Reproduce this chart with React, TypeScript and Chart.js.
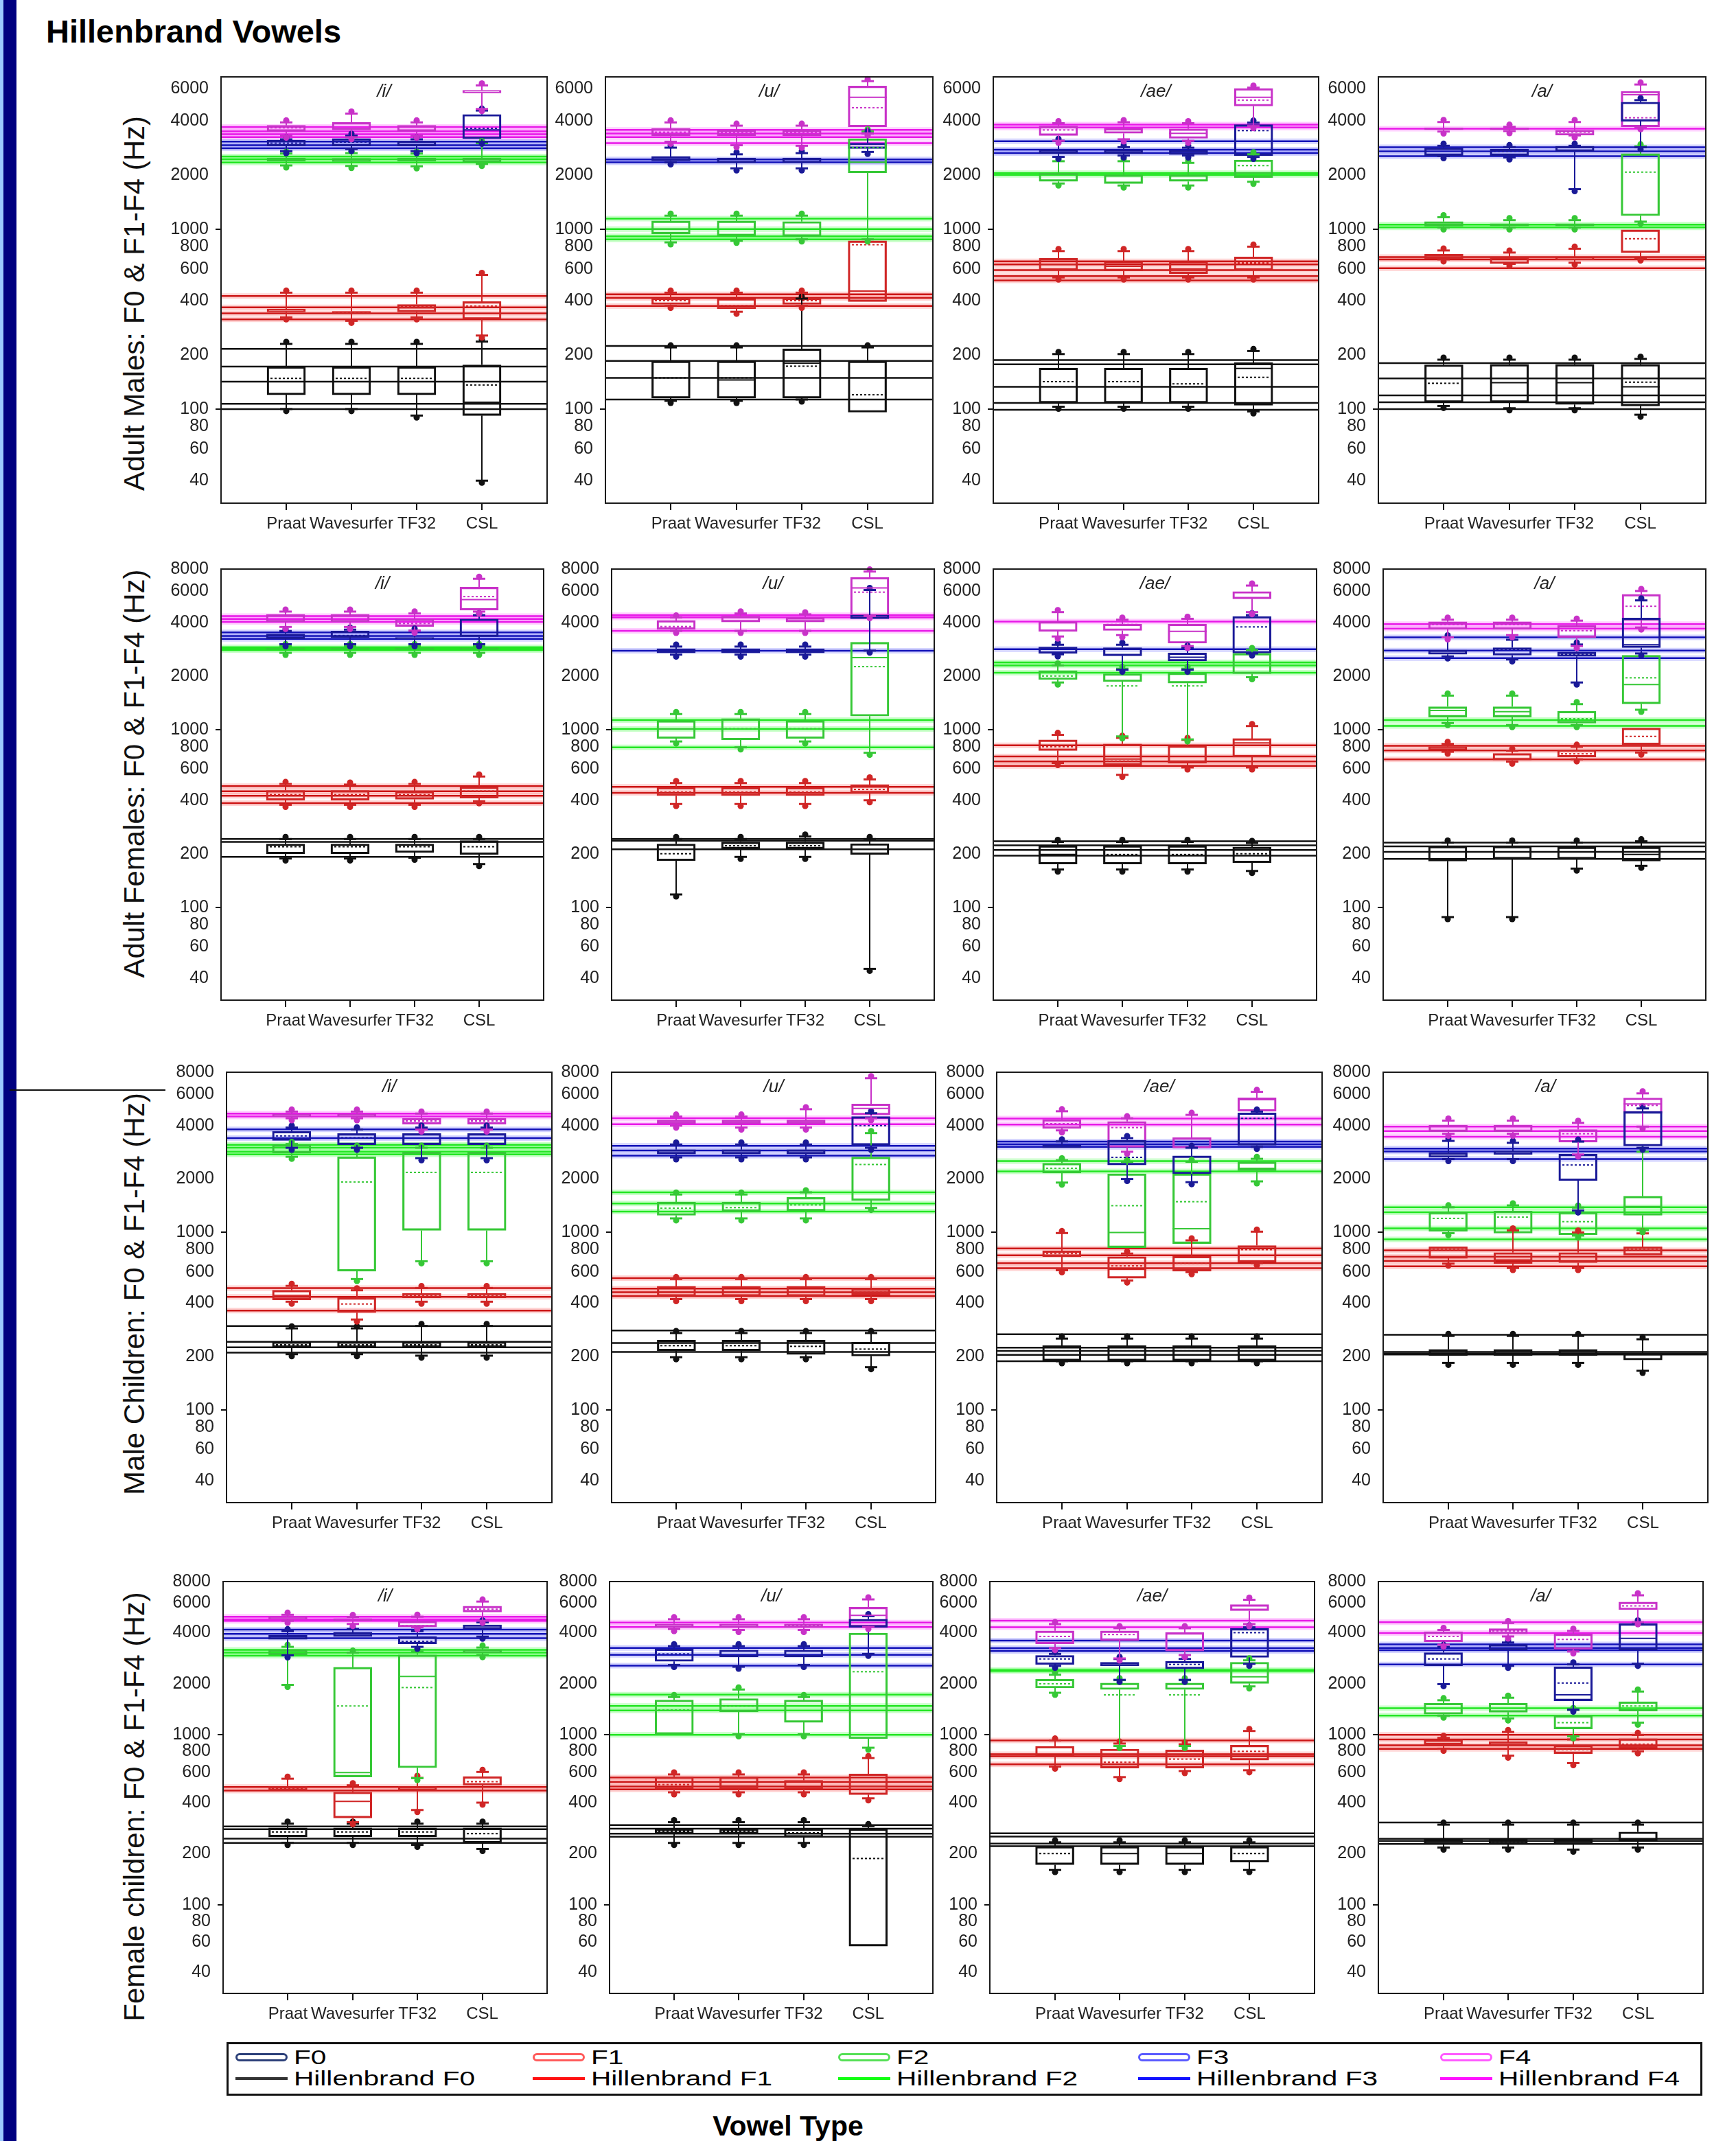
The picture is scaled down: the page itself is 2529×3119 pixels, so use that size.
import React, { useEffect, useRef } from 'react';
import { Chart, registerables } from 'chart.js';

Chart.register(...registerables);

// ---------------- DATA ----------------
const CATEGORIES = ['Praat', 'Wavesurfer', 'TF32', 'CSL'];
const FORMANTS = ['F0', 'F1', 'F2', 'F3', 'F4'];
const VOWELS = ['/i/', '/u/', '/ae/', '/a/'];
const ROW_LABELS = [
  'Adult Males: F0 & F1-F4 (Hz)',
  'Adult Females: F0 & F1-F4 (Hz)',
  'Male Children: F0 & F1-F4 (Hz)',
  'Female children: F0 & F1-F4 (Hz)',
];
const Y_TICKS_ROW1 = [40, 60, 80, 100, 200, 400, 600, 800, 1000, 2000, 4000, 6000];
const Y_TICKS = [40, 60, 80, 100, 200, 400, 600, 800, 1000, 2000, 4000, 6000, 8000];
const Y_MIN = 30;
const Y_MAX_ROW1 = 7000;
const Y_MAX = 8000;

// Each box: [low whisker, Q1, median, Q3, high whisker, mean]; per formant F0..F4, per tool Praat, Wavesurfer, TF32, CSL
type Box = (number | null)[];

// ---- Adult males ----
const AM_i_BOXES: Box[][] = [
  [[100, 120, null, 172, 230, 148], [100, 120, null, 172, 230, 148], [92, 120, null, 172, 230, 148], [40, 92, 109, 176, 237, 136]],
  [[323, 346, null, 360, 443, null], [309, 337, null, 349, 443, 343], [323, 346, 365, 381, 443, 370], [256, 315, null, 395, 556, 373]],
  [[2255, 2380, null, 2480, 2625, null], [2240, 2370, null, 2470, 2640, null], [2230, 2380, null, 2480, 2625, null], [2300, 2350, null, 2480, 3000, null]],
  [[2707, 2895, null, 3114, 3150, 3000], [2780, 2895, null, 3180, 3300, 3040], [2707, 2895, null, 3080, 3150, null], [3050, 3176, 3554, 4328, 4550, 3625]],
  [[3300, 3489, null, 3763, 3910, 3650], [3237, 3554, null, 3910, 4378, null], [3300, 3489, null, 3763, 3910, null], [4640, 5700, null, 5900, 6278, null]],
];
const AM_i_REF = [[216, 172, 142, 107, 100], [424, 367, 340, 315], [2530, 2440, 2340], [3057, 2921, 2810], [3690, 3489, 3363, 3237]];

const AM_u_BOXES: Box[][] = [
  [[111, 115, null, 185, 220, 149], [111, 115, 145, 185, 220, 149], [113, 115, 180, 216, 411, 173], [96, 96, null, 185, 220, 120]],
  [[374, 381, null, 414, 443, 400], [347, 360, null, 411, 443, 375], [374, 381, null, 414, 443, 400], [395, 395, 452, 860, 860, 818]],
  [[843, 938, 1000, 1108, 1186, null], [860, 917, null, 1108, 1186, null], [876, 910, null, 1100, 1186, null], [876, 2052, 2350, 3176, 3490, 2832]],
  [[2344, 2390, null, 2530, 2832, null], [2173, 2330, null, 2480, 2600, null], [2173, 2330, null, 2480, 2640, null], [2680, 2800, null, 3000, 3400, null]],
  [[3055, 3300, null, 3620, 3910, 3450], [2920, 3300, null, 3556, 3750, 3450], [2900, 3300, null, 3556, 3750, 3450], [3400, 3690, 5390, 6225, 6630, 4720]],
];
const AM_u_REF = [[224, 185, 149, 113], [434, 414, 374], [1142, 1000, 910, 876], [2435, 2344], [3556, 3395, 3237, 3000]];

const AM_ae_BOXES: Box[][] = [
  [[103, 108, null, 169, 202, 142], [103, 108, null, 169, 202, 142], [103, 108, null, 169, 202, 138], [97, 105, 168, 181, 210, 150]],
  [[538, 591, 636, 687, 754, null], [538, 585, 620, 661, 754, null], [538, 565, 600, 661, 754, null], [538, 591, null, 700, 798, 648]],
  [[1790, 1840, null, 2045, 2380, null], [1745, 1790, null, 2000, 2380, null], [1745, 1840, null, 2000, 2330, null], [1830, 1930, 2050, 2420, 2600, 2250]],
  [[2515, 2620, null, 2760, 3090, null], [2560, 2620, null, 2760, 2850, null], [2560, 2590, null, 2740, 2830, null], [2515, 2560, null, 3800, 3900, 3520]],
  [[3090, 3310, null, 3730, 3870, 3550], [3150, 3400, null, 3620, 3920, null], [3090, 3190, 3400, 3600, 3870, null], [3730, 4820, 5390, 6040, 6100, 5200]],
];
const AM_ae_REF = [[187, 177, 133, 108, 99], [661, 636, 591, 548, 518], [2045, 2000], [3070, 2760, 2640], [3800, 3660]];

const AM_a_BOXES: Box[][] = [
  [[104, 109, null, 176, 188, 139], [101, 109, 140, 177, 188, null], [101, 106, 140, 177, 188, null], [93, 104, 133, 177, 190, 141]],
  [[678, 686, null, 726, 760, null], [640, 643, null, 698, 740, null], [650, 673, null, 698, 777, null], [686, 739, null, 989, 989, 883]],
  [[1020, 1038, null, 1099, 1163, null], [1020, 1040, null, 1070, 1120, null], [1020, 1040, null, 1070, 1120, null], [1099, 1185, null, 2620, 2880, 2070]],
  [[2540, 2560, null, 2820, 2900, null], [2500, 2560, null, 2780, 2850, 2700], [1665, 2700, null, 2880, 2900, null], [2845, 3970, null, 5070, 5200, null]],
  [[3480, 3560, null, 3650, 3930, null], [3500, 3560, null, 3650, 3700, null], [3310, 3320, null, 3540, 3930, 3450], [3680, 3690, 5570, 5820, 6350, 4150]],
];
const AM_a_REF = [[180, 148, 119, 109, 100], [698, 678, 606], [1058, 1020], [2845, 2700, 2540], [3610]];

// ---- Adult females ----
const AF_i_BOXES: Box[][] = [
  [[188, 200, null, 227, 242, 219], [188, 200, null, 227, 242, 219], [190, 203, null, 227, 242, 219], [175, 198, null, 237, 242, 219]],
  [[377, 400, null, 454, 494, 430], [377, 400, null, 454, 490, 430], [377, 405, null, 450, 494, 430], [395, 411, null, 476, 544, 450]],
  [[2700, 2820, null, 2880, 2950, null], [2700, 2820, null, 2880, 2950, null], [2700, 2820, null, 2880, 2950, null], [2700, 2820, null, 2880, 2950, null]],
  [[3020, 3236, null, 3450, 3586, null], [3020, 3300, null, 3586, 3650, 3380], [3020, 3236, null, 3300, 3600, null], [3020, 3330, null, 4190, 4400, null]],
  [[3780, 4030, null, 4430, 4610, null], [3780, 4030, null, 4430, 4610, null], [3600, 3800, null, 4190, 4500, 3950], [4610, 4700, 5380, 6325, 7050, 5600]],
];
const AF_i_REF = [[242, 233, 192], [480, 449, 424, 385], [2900, 2850, 2800], [3520, 3363, 3236], [4353, 4190, 4030]];

const AF_u_BOXES: Box[][] = [
  [[118, 183, null, 227, 242, 200], [192, 213, null, 233, 242, 222], [192, 213, null, 233, 250, 222], [45, 198, null, 228, 242, 200]],
  [[381, 424, null, 472, 500, 445], [381, 424, null, 472, 500, 445], [381, 424, null, 472, 500, 445], [400, 440, null, 490, 524, 460]],
  [[857, 891, 1008, 1123, 1222, null], [794, 874, null, 1153, 1222, 1010], [857, 891, null, 1123, 1222, 1010], [740, 1190, 2540, 3100, 3100, 2260]],
  [[2640, 2700, null, 2850, 2930, null], [2640, 2700, null, 2850, 2930, null], [2640, 2700, null, 2850, 2930, null], [2780, 4200, null, 4400, 6100, null]],
  [[3590, 3660, null, 4110, 4270, 3800], [3590, 4030, null, 4350, 4500, null], [3590, 4030, null, 4270, 4450, null], [4350, 4360, 6270, 7180, 7750, 5930]],
];
const AF_u_REF = [[242, 237, 212], [476, 440], [1131, 1008, 794], [2775], [4400, 4270, 3590]];

const AF_ae_BOXES: Box[][] = [
  [[163, 175, 198, 222, 233, null], [163, 175, null, 222, 233, 198], [163, 175, null, 222, 233, 198], [160, 178, null, 218, 230, 200]],
  [[648, 762, null, 874, 933, 800], [556, 630, 682, 830, 898, 665], [612, 648, 665, 810, 874, null], [612, 700, 841, 890, 1046, null]],
  [[1840, 1910, null, 2145, 2295, 2000], [915, 1860, null, 2060, 2200, 1760], [880, 1825, null, 2087, 2200, 1760], [1970, 2060, null, 2680, 2800, null]],
  [[2650, 2680, null, 2910, 3000, null], [2170, 2600, null, 2890, 3000, null], [2170, 2430, 2550, 2700, 2890, null], [2680, 2690, null, 4320, 4400, 3780]],
  [[3340, 3570, null, 4050, 4580, null], [3400, 3610, null, 3920, 4150, 3900], [2950, 3060, 3570, 3920, 4200, null], [4580, 5440, null, 5980, 6460, null]],
];
const AF_ae_REF = [[235, 223, 210, 195], [816, 706, 661, 624], [2386, 2295, 2087], [2835], [4050]];

const AF_a_BOXES: Box[][] = [
  [[88, 182, null, 220, 231, null], [88, 187, null, 220, 231, null], [165, 187, 205, 218, 231, null], [171, 182, 198, 218, 235, null]],
  [[750, 770, null, 800, 830, null], [660, 674, null, 733, 760, null], [680, 700, null, 770, 800, 730], [742, 822, null, 1020, 1020, 915]],
  [[1088, 1175, 1280, 1343, 1552, null], [1060, 1175, 1260, 1343, 1552, null], [1060, 1088, null, 1268, 1390, 1150], [1292, 1395, 1790, 2620, 2620, 1955]],
  [[2580, 2650, null, 2800, 3303, null], [2480, 2620, null, 2890, 3200, 2820], [1840, 2580, null, 2730, 3010, 2650], [2680, 2890, 3000, 4240, 5330, null]],
  [[3300, 3660, null, 4040, 4150, 3900], [3400, 3660, null, 4040, 4150, 3900], [2950, 3300, null, 3850, 4100, 3600], [3750, 4110, null, 5760, 6020, 4940]],
];
const AF_a_REF = [[231, 220, 205, 187], [810, 762, 679], [1130, 1047], [3303, 2780, 2525], [3920, 3700]];

// ---- Male children ----
const MC_i_BOXES: Box[][] = [
  [[206, 225, null, 242, 288, 233], [206, 225, null, 242, 288, 233], [202, 225, null, 242, 297, 233], [202, 225, null, 242, 297, 233]],
  [[407, 417, 440, 472, 500, null], [323, 353, null, 429, 472, 395], [407, 428, null, 454, 486, 440], [407, 428, null, 454, 486, 440]],
  [[2670, 2800, null, 3120, 3150, null], [546, 605, null, 2670, 3000, 1925], [688, 1027, null, 2835, 3000, 2180], [688, 1027, null, 2835, 3000, 2180]],
  [[3000, 3300, null, 3710, 3900, 3500], [3000, 3120, null, 3610, 3810, 3420], [2620, 3120, null, 3610, 3900, null], [2620, 3120, null, 3610, 3900, null]],
  [[4400, 4500, null, 4650, 4800, null], [4400, 4500, null, 4650, 4800, null], [3800, 4080, null, 4400, 4680, 4250], [3800, 4080, null, 4400, 4680, 4250]],
];
const MC_i_REF = [[297, 242, 225, 210], [486, 433, 363], [3120, 3000, 2855, 2750], [3810, 3400], [4680, 4500]];

const MC_u_BOXES: Box[][] = [
  [[198, 215, null, 247, 271, 230], [198, 215, null, 247, 271, 230], [198, 205, null, 247, 271, 228], [174, 201, null, 241, 271, 220]],
  [[421, 437, 460, 497, 546, null], [421, 437, 460, 497, 546, null], [421, 437, 460, 497, 546, null], [421, 443, null, 482, 546, 460]],
  [[1200, 1248, null, 1485, 1636, 1370], [1200, 1312, null, 1485, 1636, 1380], [1200, 1323, null, 1575, 1683, 1430], [1375, 1515, null, 2660, 3630, 2415]],
  [[2650, 2770, null, 2930, 3130, null], [2650, 2770, null, 2930, 3130, null], [2650, 2770, null, 2930, 3130, null], [3000, 3100, null, 4500, 4700, 4000]],
  [[4000, 4100, null, 4300, 4500, null], [3900, 4100, null, 4300, 4500, null], [3900, 4100, null, 4300, 4950, null], [4400, 4600, 5000, 5300, 7400, null]],
];
const MC_u_REF = [[280, 238, 212], [552, 482, 460, 437], [1683, 1457, 1312], [3080, 2900, 2710], [4400, 4070]];

const MC_ae_BOXES: Box[][] = [
  [[188, 189, null, 230, 252, 215], [188, 189, null, 230, 252, 215], [188, 189, null, 230, 252, 215], [188, 189, null, 230, 252, 215]],
  [[612, 730, null, 788, 992, 760], [536, 552, 620, 730, 760, 648], [597, 605, null, 734, 902, 670], [670, 680, null, 843, 1010, 800]],
  [[1910, 2160, null, 2455, 2550, 2300], [820, 820, 1000, 2140, 2500, 1415], [865, 865, 1050, 2140, 2500, 1490], [1940, 2230, 2300, 2500, 2600, null]],
  [[3000, 3000, null, 3100, 3260, null], [2000, 2400, null, 3300, 3400, 2650], [1920, 2140, null, 2700, 3000, null], [3035, 3100, null, 4720, 4800, 4400]],
  [[3760, 3860, null, 4330, 4820, 4100], [2850, 3020, null, 4220, 4400, 3900], [2990, 2990, null, 3420, 4600, null], [4820, 4820, 5600, 5740, 6200, null]],
];
const MC_ae_REF = [[267, 224, 215, 204, 188], [812, 743, 670, 628], [2523, 2210], [3255, 3140, 3035], [4380, 4060]];

const MC_a_BOXES: Box[][] = [
  [[184, 202, null, 219, 261, null], [184, 202, null, 219, 261, null], [184, 202, null, 219, 261, null], [166, 191, null, 208, 250, null]],
  [[667, 715, null, 830, 830, 800], [630, 667, 700, 770, 1027, null], [630, 675, null, 770, 1000, null], [745, 745, null, 830, 988, 800]],
  [[990, 1015, null, 1300, 1385, 1200], [990, 990, null, 1320, 1420, 1220], [960, 970, null, 1300, 1380, 1150], [1030, 1250, 1400, 1600, 2850, null]],
  [[2590, 2650, null, 2810, 3280, null], [2590, 2750, null, 2880, 3200, null], [1330, 1960, null, 2760, 3250, 2400], [3000, 3070, null, 4800, 5000, null]],
  [[3600, 3700, null, 4030, 4270, null], [3600, 3700, null, 4030, 4270, null], [2750, 3230, null, 3800, 4150, 3600], [3950, 4700, 5300, 5730, 6080, 5200]],
];
const MC_a_REF = [[265, 212, 208, 205], [793, 730, 690, 645], [1385, 1300, 1055, 915], [2970, 2860, 2590], [3950, 3730, 3460]];

// ---- Female children ----
const FC_i_BOXES: Box[][] = [
  [[231, 251, null, 283, 300, 268], [231, 251, null, 283, 300, 268], [225, 251, null, 283, 300, 268], [213, 231, null, 283, 300, 262]],
  [[470, 470, null, 498, 552, 485], [306, 324, 406, 460, 505, null], [361, 470, null, 498, 558, null], [399, 505, null, 568, 605, 530]],
  [[1970, 2960, null, 3170, 3300, null], [565, 565, 600, 2500, 3050, 1480], [556, 640, 2210, 2960, 3100, 1900], [2950, 3050, null, 3170, 3270, null]],
  [[2940, 3650, null, 3860, 4080, null], [3790, 3790, null, 4020, 4200, null], [3300, 3440, null, 3790, 4080, 3550], [3790, 4200, null, 4450, 4600, null]],
  [[4700, 4800, null, 4970, 5100, null], [4500, 4700, null, 4850, 4950, null], [4300, 4320, null, 4680, 4970, 4400], [4700, 5290, null, 5730, 6100, 5500]],
];
const FC_i_REF = [[289, 278, 245, 231], [493, 470], [3170, 3050, 2930], [4170, 3930, 3710], [4970, 4780, 4700]];

const FC_u_BOXES: Box[][] = [
  [[231, 262, null, 280, 306, 270], [231, 262, null, 280, 306, 270], [231, 250, null, 280, 306, 265], [57, 57, null, 280, 290, 187]],
  [[459, 477, null, 565, 585, 510], [459, 477, 500, 565, 585, null], [459, 477, null, 540, 585, null], [423, 445, 497, 589, 730, null]],
  [[1008, 1008, null, 1603, 1670, 1400], [1008, 1365, null, 1636, 1850, 1480], [1008, 1185, null, 1603, 1670, null], [840, 949, null, 3980, 3980, 2355]],
  [[2580, 2710, null, 3210, 3330, 3000], [2520, 2880, null, 3160, 3330, null], [2580, 2880, null, 3160, 3330, null], [3000, 4300, null, 4800, 5000, null]],
  [[4200, 4300, null, 4500, 4800, null], [4150, 4300, null, 4500, 4800, null], [4150, 4300, null, 4500, 4800, 4400], [4320, 4330, 5060, 5650, 6280, null]],
];
const FC_u_REF = [[294, 280, 262, 251], [561, 528, 497, 478], [1725, 1480, 1393, 1000], [3250, 2963, 2556], [4590, 4320]];

const FC_ae_BOXES: Box[][] = [
  [[160, 172, null, 220, 233, 200], [160, 172, 200, 220, 233, null], [160, 172, 200, 220, 233, null], [160, 178, null, 220, 233, 200]],
  [[650, 748, null, 856, 926, null], [564, 637, 650, 825, 889, 690], [612, 637, null, 815, 880, 720], [619, 710, null, 870, 1054, 800]],
  [[1770, 1890, null, 2130, 2260, 2000], [860, 1850, null, 2020, 2100, 1720], [860, 1850, null, 2020, 2100, 1720], [1930, 2010, 2200, 2680, 2750, null]],
  [[2550, 2600, null, 2940, 3000, 2800], [2110, 2550, null, 2680, 2800, null], [2110, 2450, null, 2710, 2800, 2600], [2620, 2860, null, 4230, 4300, 4000]],
  [[3250, 3440, null, 4100, 4490, 3800], [2820, 3590, null, 4100, 4250, 3900], [2950, 3120, null, 4000, 4250, null], [4490, 5390, null, 5850, 6250, null]],
];
const FC_ae_REF = [[263, 252, 229, 221], [926, 770, 748, 671], [2405, 2380], [3595, 3240, 3120], [4710, 4310]];

const FC_a_BOXES: Box[][] = [
  [[217, 228, null, 244, 296, null], [217, 228, null, 244, 296, 236], [211, 228, null, 244, 296, null], [217, 235, null, 268, 296, null]],
  [[828, 876, null, 934, 960, null], [754, 862, null, 912, 1040, null], [682, 776, null, 869, 940, 820], [800, 834, null, 950, 1000, 880]],
  [[1299, 1324, null, 1536, 1600, null], [1250, 1360, null, 1536, 1655, null], [980, 1084, null, 1299, 1400, 1180], [1180, 1380, null, 1567, 1800, 1480]],
  [[1990, 2550, null, 3050, 3300, 2800], [2550, 3150, null, 3410, 3500, null], [1410, 1590, 1720, 2520, 2600, 2020], [2620, 3150, 3700, 4520, 4600, null]],
  [[3400, 3530, null, 4050, 4150, 3800], [3800, 3940, null, 4220, 4560, 4100], [3100, 3190, null, 3930, 4100, 3650], [4610, 5460, null, 6060, 6640, 5750]],
];
const FC_a_REF = [[305, 244, 237, 228], [1000, 941, 869, 828], [1437, 1299], [3410, 3250, 3150, 2597], [4610, 3980]];

const PANEL_BOXES = [
  [AM_i_BOXES, AM_u_BOXES, AM_ae_BOXES, AM_a_BOXES],
  [AF_i_BOXES, AF_u_BOXES, AF_ae_BOXES, AF_a_BOXES],
  [MC_i_BOXES, MC_u_BOXES, MC_ae_BOXES, MC_a_BOXES],
  [FC_i_BOXES, FC_u_BOXES, FC_ae_BOXES, FC_a_BOXES],
];
const PANEL_REFS = [
  [AM_i_REF, AM_u_REF, AM_ae_REF, AM_a_REF],
  [AF_i_REF, AF_u_REF, AF_ae_REF, AF_a_REF],
  [MC_i_REF, MC_u_REF, MC_ae_REF, MC_a_REF],
  [FC_i_REF, FC_u_REF, FC_ae_REF, FC_a_REF],
];

// ---------------- LAYOUT / STYLE ----------------
const FONT = '"Liberation Sans", Arial, Helvetica, sans-serif';
const BOX_COLORS = ['#111111', '#d02626', '#36c836', '#1a1a98', '#c832c8'];
const REF_COLORS = ['#111111', '#cc1515', '#22e622', '#1212b8', '#e818e8'];
const REF_HALO_COLORS = ['rgba(0,0,0,0)', 'rgba(255,80,80,0.25)', 'rgba(60,255,60,0.28)', 'rgba(60,60,255,0.22)', 'rgba(255,60,255,0.25)'];
const LEGEND_BOX_COLORS = ['#2c4079', '#ff5a5a', '#55e055', '#5a5aff', '#ff5aff'];
const LEGEND_LINE_COLORS = ['#333333', '#ff1010', '#10ff10', '#1010ff', '#ff10ff'];

// plot-area rectangles [left, top, right, bottom] per row / column
const PLOT_RECTS = [
  [[322, 107, 797, 733], [882, 107, 1359, 733], [1447, 107, 1921, 733], [2008, 107, 2485, 733]],
  [[322, 824, 792, 1457], [891, 824, 1361, 1457], [1447, 824, 1918, 1457], [2015, 824, 2485, 1457]],
  [[330, 1557, 804, 2189], [891, 1557, 1363, 2189], [1452, 1557, 1926, 2189], [2015, 1557, 2488, 2189]],
  [[325, 2299, 797, 2904], [888, 2299, 1359, 2904], [1442, 2299, 1915, 2904], [2008, 2299, 2481, 2904]],
];
const ROW_LABEL_Y = [442, 1127, 1885, 2632];

const YW = 100;
const PT = 20;
const PR = 20;
const XH = 70;
const BOX_W = 56;
const CAP = 9;

function makeBoxPlugin(vowel: string) {
  return {
    id: 'boxExtras',
    afterDatasetsDraw(chart: any) {
      const { ctx, scales } = chart;
      const xs = scales.x;
      const ys = scales.y;
      const half = BOX_W / 2;
      chart.data.datasets.forEach((ds: any) => {
        if (!ds.stats) return;
        ctx.save();
        ctx.strokeStyle = ds.borderColor;
        ctx.fillStyle = ds.borderColor;
        ctx.lineWidth = 2;
        ds.stats.forEach((s: Box, i: number) => {
          const [lo, q1, med, q3, hi, mean] = s as any;
          const cx = Math.round(xs.getPixelForValue(i + 1));
          const pLo = ys.getPixelForValue(lo);
          const pQ1 = ys.getPixelForValue(q1);
          const pQ3 = ys.getPixelForValue(q3);
          const pHi = ys.getPixelForValue(hi);
          const seg = (x1: number, y1: number, x2: number, y2: number) => {
            ctx.beginPath();
            ctx.moveTo(x1, y1);
            ctx.lineTo(x2, y2);
            ctx.stroke();
          };
          if (lo < q1) {
            seg(cx, pQ1, cx, pLo);
            ctx.lineWidth = 3;
            seg(cx - CAP, pLo, cx + CAP, pLo);
            ctx.lineWidth = 2;
            ctx.beginPath();
            ctx.arc(cx, pLo + 3, 4.5, 0, Math.PI * 2);
            ctx.fill();
          }
          if (hi > q3) {
            seg(cx, pQ3, cx, pHi);
            ctx.lineWidth = 3;
            seg(cx - CAP, pHi, cx + CAP, pHi);
            ctx.lineWidth = 2;
            ctx.beginPath();
            ctx.arc(cx, pHi - 3, 4.5, 0, Math.PI * 2);
            ctx.fill();
          }
          if (med != null) {
            seg(cx - half, ys.getPixelForValue(med), cx + half, ys.getPixelForValue(med));
          }
          if (mean != null) {
            ctx.setLineDash([3, 3]);
            const pm = ys.getPixelForValue(mean);
            seg(cx - half + 5, pm, cx + half - 5, pm);
            ctx.setLineDash([]);
          }
        });
        ctx.restore();
      });
    },
    afterDraw(chart: any) {
      const { ctx, chartArea } = chart;
      ctx.save();
      ctx.strokeStyle = '#1a1a1a';
      ctx.lineWidth = 2;
      ctx.strokeRect(chartArea.left, chartArea.top, chartArea.right - chartArea.left, chartArea.bottom - chartArea.top);
      ctx.fillStyle = '#222';
      ctx.font = `italic 26px ${FONT}`;
      ctx.textAlign = 'center';
      ctx.textBaseline = 'alphabetic';
      ctx.fillText(vowel, (chartArea.left + chartArea.right) / 2, chartArea.top + 29);
      ctx.restore();
    },
  };
}

function buildConfig(row: number, col: number) {
  const boxes = PANEL_BOXES[row][col];
  const refs = PANEL_REFS[row][col];
  const ticks = row === 0 ? Y_TICKS_ROW1 : Y_TICKS;
  const yMax = row === 0 ? Y_MAX_ROW1 : Y_MAX;
  const datasets: any[] = [];
  refs.forEach((vals, f) => {
    vals.forEach((v) => {
      if (f > 0) {
        datasets.push({
          type: 'line',
          data: [{ x: 0, y: v }, { x: 5, y: v }],
          borderColor: REF_HALO_COLORS[f],
          borderWidth: 8,
          pointRadius: 0,
          fill: false,
          order: 4,
        });
      }
      datasets.push({
        type: 'line',
        data: [{ x: 0, y: v }, { x: 5, y: v }],
        borderColor: REF_COLORS[f],
        borderWidth: 2.5,
        pointRadius: 0,
        fill: false,
        order: 3,
      });
    });
  });
  boxes.forEach((fb, f) => {
    datasets.push({
      type: 'bar',
      label: FORMANTS[f],
      data: fb.map((s, i) => ({ x: i + 1, y: [s[1], s[3]] })),
      stats: fb,
      backgroundColor: 'rgba(0,0,0,0)',
      borderColor: BOX_COLORS[f],
      borderWidth: 2.5,
      borderSkipped: false,
      grouped: false,
      barThickness: BOX_W,
      order: 1,
    });
  });
  return {
    type: 'bar',
    data: { datasets },
    options: {
      animation: false,
      responsive: false,
      maintainAspectRatio: false,
      devicePixelRatio: 1,
      events: [],
      layout: { padding: { top: PT, right: PR, left: 0, bottom: 0 } },
      plugins: { legend: { display: false }, tooltip: { enabled: false }, title: { display: false } },
      scales: {
        x: {
          type: 'linear',
          min: 0,
          max: 5,
          offset: false,
          afterBuildTicks: (s: any) => {
            s.ticks = [1, 2, 3, 4].map((v) => ({ value: v }));
          },
          afterFit: (s: any) => {
            s.height = XH;
          },
          ticks: {
            callback: (v: any) => CATEGORIES[Number(v) - 1] ?? '',
            font: { family: FONT, size: 24 },
            color: '#222',
            padding: 6,
            autoSkip: false,
            maxRotation: 0,
            minRotation: 0,
          },
          grid: { drawOnChartArea: false, drawTicks: true, tickLength: 10, color: '#111', lineWidth: 2, offset: false },
          border: { display: false },
        },
        y: {
          type: 'logarithmic',
          min: Y_MIN,
          max: yMax,
          beginAtZero: false,
          afterBuildTicks: (s: any) => {
            s.ticks = ticks.map((v) => ({ value: v }));
          },
          afterFit: (s: any) => {
            s.width = YW;
          },
          ticks: {
            callback: (v: any) => String(v),
            font: { family: FONT, size: 25 },
            color: '#222',
            padding: 10,
            autoSkip: false,
          },
          grid: {
            drawOnChartArea: false,
            drawTicks: true,
            tickLength: 8,
            lineWidth: 2,
            color: (c: any) => (c.tick && (c.tick.value === 100 || c.tick.value === 1000) ? '#111' : 'rgba(0,0,0,0)'),
          },
          border: { display: false },
        },
      },
    },
    plugins: [makeBoxPlugin(VOWELS[col])],
  };
}

function Panel({ row, col }: { row: number; col: number }) {
  const ref = useRef<HTMLCanvasElement>(null);
  const [l, t, r, b] = PLOT_RECTS[row][col];
  const w = r - l + YW + PR;
  const h = b - t + PT + XH;
  useEffect(() => {
    const chart = new Chart(ref.current as HTMLCanvasElement, buildConfig(row, col) as any);
    return () => chart.destroy();
  }, [row, col]);
  return (
    <canvas
      ref={ref}
      width={w}
      height={h}
      style={{ position: 'absolute', left: l - YW, top: t - PT, width: w, height: h }}
    />
  );
}

const LEGEND_X = [343, 776, 1221, 1658, 2098];

export default function App() {
  const panels: JSX.Element[] = [];
  for (let r = 0; r < 4; r++) for (let c = 0; c < 4; c++) panels.push(<Panel key={`${r}-${c}`} row={r} col={c} />);
  return (
    <div
      style={{
        position: 'absolute',
        left: 0,
        top: 0,
        width: 2529,
        height: 3119,
        background: '#ffffff',
        overflow: 'hidden',
        fontFamily: FONT,
        color: '#000',
      }}
    >
      <div style={{ position: 'absolute', left: 0, top: 0, width: 5, height: 3119, background: '#9cc9ff' }} />
      <div style={{ position: 'absolute', left: 5, top: 0, width: 19, height: 3119, background: '#000080' }} />
      <div style={{ position: 'absolute', left: 14, top: 1587, width: 227, height: 2, background: '#111' }} />
      <div
        style={{
          position: 'absolute',
          left: 67,
          top: 18,
          fontSize: 47,
          fontWeight: 'bold',
          lineHeight: '56px',
          whiteSpace: 'nowrap',
        }}
      >
        Hillenbrand Vowels
      </div>
      {ROW_LABELS.map((txt, i) => (
        <div
          key={txt}
          style={{
            position: 'absolute',
            left: 196,
            top: ROW_LABEL_Y[i],
            transform: 'translate(-50%, -50%) rotate(-90deg)',
            fontSize: 42,
            lineHeight: '48px',
            whiteSpace: 'nowrap',
            color: '#111',
          }}
        >
          {txt}
        </div>
      ))}
      {panels}
      <div
        style={{
          position: 'absolute',
          left: 330,
          top: 2975,
          width: 2150,
          height: 78,
          border: '3px solid #111',
          boxSizing: 'border-box',
        }}
      />
      {FORMANTS.map((f, i) => (
        <React.Fragment key={f}>
          <div
            style={{
              position: 'absolute',
              left: LEGEND_X[i],
              top: 2991,
              width: 76,
              height: 12,
              border: `3px solid ${LEGEND_BOX_COLORS[i]}`,
              borderRadius: 6,
              boxSizing: 'border-box',
              background: '#fff',
            }}
          />
          <span
            style={{
              position: 'absolute',
              left: LEGEND_X[i] + 85,
              top: 2982,
              fontSize: 29,
              lineHeight: '30px',
              whiteSpace: 'nowrap',
              transform: 'scaleX(1.4)',
              transformOrigin: 'left top',
            }}
          >
            {f}
          </span>
          <div
            style={{
              position: 'absolute',
              left: LEGEND_X[i],
              top: 3026,
              width: 76,
              height: 4,
              background: LEGEND_LINE_COLORS[i],
            }}
          />
          <span
            style={{
              position: 'absolute',
              left: LEGEND_X[i] + 85,
              top: 3013,
              fontSize: 29,
              lineHeight: '30px',
              whiteSpace: 'nowrap',
              transform: 'scaleX(1.4)',
              transformOrigin: 'left top',
            }}
          >
            {`Hillenbrand ${f}`}
          </span>
        </React.Fragment>
      ))}
      <div
        style={{
          position: 'absolute',
          left: 1148,
          top: 3074,
          transform: 'translateX(-50%)',
          fontSize: 41,
          fontWeight: 'bold',
          lineHeight: '46px',
          whiteSpace: 'nowrap',
        }}
      >
        Vowel Type
      </div>
    </div>
  );
}
